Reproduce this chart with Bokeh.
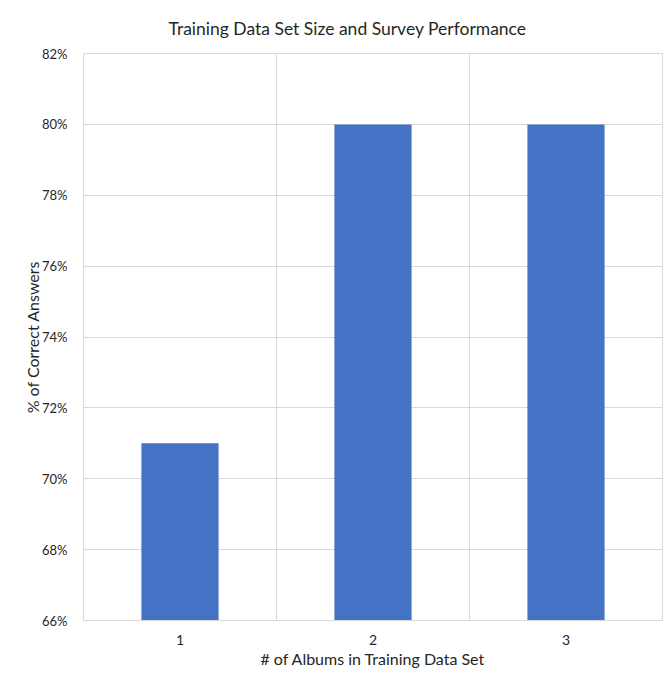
from bokeh.plotting import figure
from bokeh.models import Range1d, FixedTicker, NumeralTickFormatter, ColumnDataSource
from bokeh.embed import file_html
from bokeh.resources import INLINE

categories = [1, 2, 3]
values = [0.71, 0.80, 0.80]
y_ticks = [0.66, 0.68, 0.70, 0.72, 0.74, 0.76, 0.78, 0.80, 0.82]
title_text = "Training Data Set Size and Survey Performance"
x_label = "# of Albums in Training Data Set"
y_label = "% of Correct Answers"

FONT = "Lato"
TXT = "#262626"
GRID = "#d9d9d9"

src = ColumnDataSource(dict(x=categories, top=values))

p = figure(width=663, height=671, output_backend="svg", toolbar_location=None,
           x_range=Range1d(0.5, 3.5), y_range=Range1d(0.66, 0.82),
           min_border_left=83, min_border_right=1, min_border_top=53, min_border_bottom=51)

p.vbar(x="x", top="top", bottom=0.66, width=0.4, source=src,
       fill_color="#4472C4", line_color=None)

p.title.text = title_text
p.title.align = "left"
p.title.offset = 85
p.title.text_font = FONT
p.title.text_font_size = "17.5px"
p.title.text_font_style = "normal"
p.title.text_color = TXT
p.title.standoff = 29

p.outline_line_color = GRID

p.xaxis.ticker = FixedTicker(ticks=categories)
p.yaxis.ticker = FixedTicker(ticks=y_ticks)
p.yaxis.formatter = NumeralTickFormatter(format="0%")

p.xgrid.ticker = FixedTicker(ticks=[0.5, 1.5, 2.5, 3.5])
p.xgrid.grid_line_color = GRID
p.ygrid.grid_line_color = GRID

for ax in (p.xaxis, p.yaxis):
    ax.major_tick_line_color = None
    ax.minor_tick_line_color = None
    ax.major_label_text_font = FONT
    ax.major_label_text_font_size = "14px"
    ax.major_label_text_color = TXT
    ax.axis_label_text_font = FONT
    ax.axis_label_text_font_size = "16px"
    ax.axis_label_text_font_style = "normal"
    ax.axis_label_text_color = TXT

p.yaxis.major_label_text_font_size = "13px"
p.xaxis.axis_line_color = GRID
p.yaxis.axis_line_color = None
p.xaxis.major_label_standoff = 8
p.yaxis.major_label_standoff = 10
p.xaxis.axis_label = x_label
p.yaxis.axis_label = y_label
p.xaxis.axis_label_standoff = 1
p.yaxis.axis_label_standoff = -3

open("out.html", "w").write(file_html(p, INLINE))
